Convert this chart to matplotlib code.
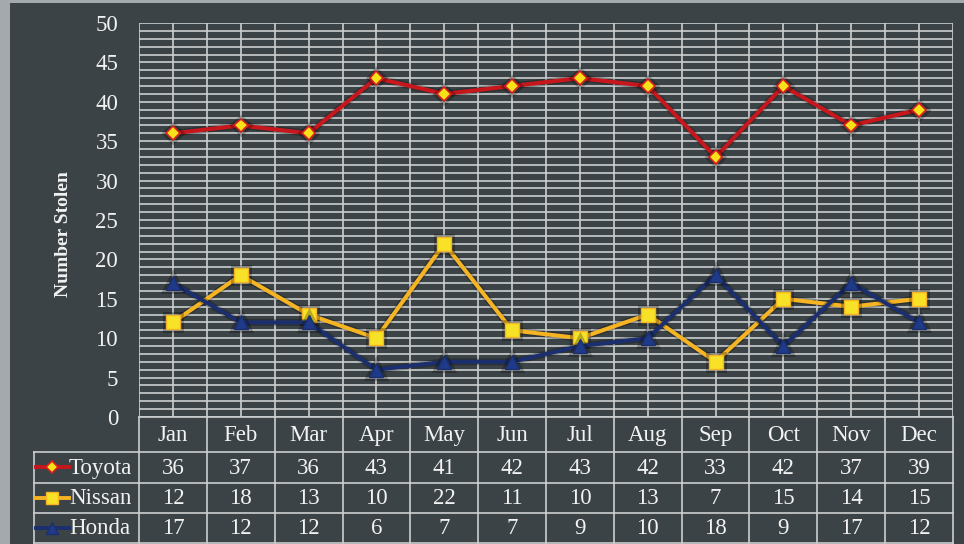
import matplotlib
matplotlib.use("Agg")
import matplotlib.pyplot as plt
from matplotlib.patches import Rectangle
import matplotlib.patheffects as pe

months = ["Jan", "Feb", "Mar", "Apr", "May", "Jun", "Jul", "Aug", "Sep", "Oct", "Nov", "Dec"]
toyota = [36, 37, 36, 43, 41, 42, 43, 42, 33, 42, 37, 39]
nissan = [12, 18, 13, 10, 22, 11, 10, 13, 7, 15, 14, 15]
honda = [17, 12, 12, 6, 7, 7, 9, 10, 18, 9, 17, 12]
series_names = ["Toyota", "Nissan", "Honda"]
y_ticks = [0, 5, 10, 15, 20, 25, 30, 35, 40, 45, 50]
y_label = "Number Stolen"

FONT = "Liberation Serif"
TXT = "#f2f2f2"
GRID = "#cdcfd0"
PANEL = "#3b4346"
FS = 16.5

W, H = 964, 544
fig = plt.figure(figsize=(W / 100, H / 100), dpi=100)
fig.patch.set_facecolor("#a4a9ae")

fig.patches.append(Rectangle((10 / W, 0), 1 - 10 / W, (H - 3) / H,
                             transform=fig.transFigure, facecolor=PANEL,
                             edgecolor="none", zorder=-5))

px_l, px_r, px_t, px_b = 139, 953, 23, 417
ax = fig.add_axes([px_l / W, (H - px_b) / H, (px_r - px_l) / W, (px_b - px_t) / H])
ax.set_facecolor("none")
x = list(range(len(months)))
ax.set_xlim(-0.5, len(months) - 0.5)
ax.set_ylim(0, 50)

for yv in range(0, 51):
    ax.axhline(yv, color=GRID, lw=1.2, zorder=1)
for i in range(len(months) * 2 + 1):
    ax.axvline(-0.5 + i * 0.5, color=GRID, lw=1.2, zorder=1)
for s in ax.spines.values():
    s.set_visible(False)

styles = [
    dict(color="#c8161d", marker="D", ms=7, mfc="#f7e21a", mec="#d81e1e", mew=1.2),
    dict(color="#f6b423", marker="s", ms=10, mfc="#f7e227", mec="#f6b423", mew=1.0),
    dict(color="#1b2f6e", marker="^", ms=10, mfc="#1f3a88", mec="#1b2f6e", mew=1.0),
]
shadow = [pe.Stroke(linewidth=5, foreground=(0, 0, 0, 0.25)), pe.Normal()]
for vals, st in zip([toyota, nissan, honda], styles):
    ax.plot(x, vals, lw=2.9, zorder=3, solid_joinstyle="round", path_effects=shadow, **st)

ax.set_yticks(y_ticks)
ax.set_yticklabels([str(v) for v in y_ticks], fontfamily=FONT, fontsize=FS, color=TXT)
ax.tick_params(axis="y", length=0, pad=15)
ax.set_xticks([])
ax.text(-0.093, 0.464, y_label, transform=ax.transAxes, rotation=90, ha="center",
        va="center", fontfamily=FONT, fontsize=14, fontweight="bold", color=TXT)

# data table
tb_t, tb_b = 417, 543
tax = fig.add_axes([px_l / W, (H - tb_b) / H, (px_r - px_l) / W, (tb_b - tb_t) / H])
tax.set_facecolor("none")
tax.set_xlim(-0.5, len(months) - 0.5)
tax.set_ylim(tb_b, tb_t)
tax.axis("off")
unit = (px_r - px_l) / len(months)
leg_x0 = -0.5 - (px_l - 34) / unit
row_edges = [417, 452, 482.5, 512.5, 543]
lc = GRID
lw = 1.2
tax.plot([-0.5, len(months) - 0.5], [row_edges[0]] * 2, color=lc, lw=lw, clip_on=False)
for yv in row_edges[1:]:
    tax.plot([leg_x0, len(months) - 0.5], [yv, yv], color=lc, lw=lw, clip_on=False)
for i in range(len(months) + 1):
    tax.plot([-0.5 + i, -0.5 + i], [row_edges[0], row_edges[-1]], color=lc, lw=lw, clip_on=False)
tax.plot([leg_x0, leg_x0], [row_edges[1], row_edges[-1]], color=lc, lw=lw, clip_on=False)

for i, m in enumerate(months):
    tax.text(i, (row_edges[0] + row_edges[1]) / 2 + 1, m, ha="center", va="center",
             fontfamily=FONT, fontsize=FS, color=TXT)
leg_ms = [6, 8, 8]
for r, (name, vals, st) in enumerate(zip(series_names, [toyota, nissan, honda], styles)):
    yc = (row_edges[r + 1] + row_edges[r + 2]) / 2 + 1
    for i, v in enumerate(vals):
        tax.text(i, yc, str(v), ha="center", va="center", fontfamily=FONT,
                 fontsize=FS, color=TXT)
    kx0 = leg_x0 + 2 / unit
    kx1 = leg_x0 + 35 / unit
    tax.plot([kx0, kx1], [yc - 1, yc - 1], lw=2.8, clip_on=False, color=st["color"])
    mst = {k: v for k, v in st.items() if k not in ("color", "ms")}
    tax.plot([(kx0 + kx1) / 2], [yc - 1], clip_on=False, ls="none", ms=leg_ms[r], **mst)
    tax.text(leg_x0 + 35 / unit, yc, name, ha="left", va="center", fontfamily=FONT,
             fontsize=FS, color=TXT)

fig.savefig("out.png", dpi=100, facecolor=fig.get_facecolor())
